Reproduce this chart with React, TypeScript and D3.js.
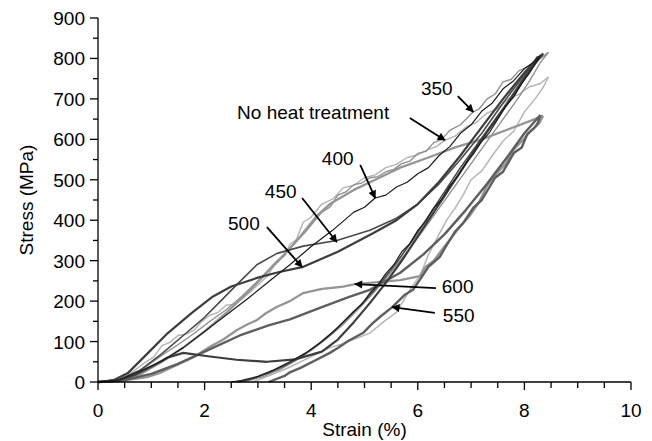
import React from "react";
import * as d3 from "d3";

// strain (%) , stress (MPa), one loading + one unloading branch per sample
const nhtLoad = [[0,0],[0.3,4],[0.6,20],[0.9,50],[1.05,62],[1.2,90],[1.35,98],[1.5,115],[1.65,118],[1.8,128],[1.95,150],[2.1,165],[2.25,172],[2.4,190],[2.55,192],[2.7,205],[2.85,222],[3.0,240],[3.18,262],[3.36,300],[3.5,312],[3.6,340],[3.72,352],[3.85,395],[4.0,408],[4.2,440],[4.4,452],[4.6,480],[4.8,486],[5.0,505],[5.2,512],[5.4,530],[5.6,538],[5.8,555],[6.0,562],[6.2,575],[6.35,582],[6.51,598],[6.7,608],[6.9,630],[7.1,642],[7.3,665],[7.5,676],[7.7,700],[7.9,712],[8.1,730],[8.3,738],[8.45,754]];
const nhtUnload = [[8.45,754],[8.35,728],[8.2,700],[8.0,668],[7.8,620],[7.6,596],[7.4,560],[7.2,522],[7.0,500],[6.85,462],[6.7,430],[6.55,402],[6.41,368],[6.2,315],[6.04,262],[5.85,228],[5.6,172],[5.35,148],[5.1,121],[4.85,108],[4.6,95],[4.35,85],[4.05,66],[3.8,50],[3.55,34],[3.3,20],[2.9,0]];

const t350Load = [[0,0],[0.3,2],[0.6,14],[0.9,38],[1.2,66],[1.5,92],[1.8,120],[2.1,150],[2.4,178],[2.7,212],[3.0,250],[3.3,292],[3.6,330],[3.9,372],[4.2,420],[4.35,432],[4.5,462],[4.65,470],[4.8,488],[4.95,492],[5.1,505],[5.25,508],[5.4,520],[5.55,526],[5.7,540],[5.85,546],[6.0,565],[6.15,570],[6.3,592],[6.45,600],[6.6,622],[6.8,636],[7.04,668],[7.15,675],[7.3,700],[7.45,712],[7.6,742],[7.75,748],[7.9,770],[8.05,778],[8.2,795],[8.3,800],[8.45,815]];
const t350Unload = [[8.45,815],[8.3,790],[8.1,745],[7.9,705],[7.6,650],[7.3,595],[7.0,540],[6.7,485],[6.4,430],[6.1,375],[5.8,322],[5.5,272],[5.2,225],[4.9,182],[4.6,142],[4.3,108],[4.0,78],[3.7,52],[3.4,30],[3.1,13],[2.8,3],[2.6,0]];

const t400Load = [[0,0],[0.4,5],[0.8,28],[1.2,52],[1.6,85],[2.0,125],[2.4,165],[2.8,205],[3.2,248],[3.6,290],[4.0,335],[4.4,375],[4.8,420],[5.0,432],[5.2,455],[5.4,462],[5.6,482],[5.8,494],[6.0,515],[6.2,530],[6.4,560],[6.6,582],[6.8,615],[7.0,636],[7.2,670],[7.4,690],[7.6,725],[7.8,745],[8.0,775],[8.15,788],[8.3,808]];
const t400Unload = [[8.3,808],[8.1,765],[7.95,738],[7.8,705],[7.65,682],[7.5,650],[7.35,618],[7.2,595],[7.05,565],[6.9,540],[6.75,508],[6.6,485],[6.45,452],[6.3,430],[6.15,398],[6.0,375],[5.85,342],[5.7,322],[5.55,290],[5.4,268],[5.25,240],[5.1,220],[4.95,192],[4.8,175],[4.5,135],[4.2,100],[3.9,72],[3.6,50],[3.3,30],[3.0,14],[2.7,4],[2.5,0]];

const t450Load = [[0,0],[0.4,6],[0.8,30],[1.2,70],[1.6,115],[2.0,160],[2.3,200],[2.6,240],[2.98,290],[3.36,318],[3.85,336],[4.48,350],[5.1,375],[5.6,405],[6.0,440],[6.4,490],[6.8,550],[7.2,615],[7.6,690],[8.0,760],[8.25,805]];
const t450Unload = [[8.25,805],[8.0,755],[7.7,695],[7.4,640],[7.1,585],[6.8,530],[6.5,470],[6.2,410],[5.9,350],[5.6,295],[5.3,245],[5.0,200],[4.7,160],[4.4,122],[4.1,90],[3.8,62],[3.5,40],[3.2,22],[2.9,8],[2.65,0]];

const t500Load = [[0,0],[0.3,5],[0.56,22],[0.94,72],[1.31,121],[1.76,171],[2.14,210],[2.5,236],[3.0,258],[3.4,272],[3.83,284],[4.5,322],[5.16,368],[5.6,400],[6.0,440],[6.4,495],[6.8,560],[7.2,630],[7.6,700],[8.0,765],[8.35,812]];
const t500Unload = [[8.35,812],[8.1,770],[7.8,710],[7.5,655],[7.2,600],[6.9,540],[6.6,480],[6.3,420],[6.0,360],[5.7,300],[5.4,245],[5.1,195],[4.8,148],[4.5,105],[4.2,75],[3.7,56],[3.17,50],[2.6,55],[2.1,63],[1.6,72],[1.3,60],[1.0,38],[0.7,18],[0.4,5],[0,0]];

const t550Load = [[0,0],[0.5,5],[1.0,20],[1.5,45],[2.0,75],[2.66,115],[3.2,140],[3.6,155],[4.2,185],[4.7,210],[5.1,228],[5.67,270],[6.1,315],[6.5,365],[6.9,425],[7.3,490],[7.7,560],[8.0,615],[8.3,660]];
const t550Unload = [[8.3,660],[8.25,640],[8.2,630],[8.05,612],[7.95,580],[7.8,566],[7.6,520],[7.45,505],[7.2,450],[7.05,432],[6.85,393],[6.7,372],[6.55,340],[6.41,309],[6.2,285],[6.05,255],[5.91,228],[5.75,215],[5.52,185],[5.3,162],[5.15,145],[4.97,121],[4.7,102],[4.5,84],[4.35,72],[4.1,55],[3.8,35],[3.6,24],[3.5,15],[3.2,0]];

const t600Load = [[0,0],[0.4,4],[0.8,20],[1.2,50],[1.6,85],[2.0,125],[2.4,170],[2.8,220],[3.2,275],[3.5,315],[3.79,359],[4.1,410],[4.35,440],[4.8,475],[5.2,500],[5.67,530],[6.2,555],[6.7,580],[7.2,600],[7.7,625],[8.1,645],[8.35,658]];
const t600Unload = [[8.35,658],[8.28,640],[8.2,630],[8.1,618],[7.97,598],[7.8,575],[7.65,540],[7.49,517],[7.3,485],[7.15,445],[6.98,412],[6.8,385],[6.65,360],[6.47,330],[6.3,300],[6.15,285],[6.04,262],[5.9,258],[5.67,252],[5.4,249],[5.1,245],[4.82,242],[4.6,236],[4.48,234],[4.2,230],[3.85,220],[3.6,200],[3.36,186],[3.15,170],[2.98,153],[2.8,142],[2.6,128],[2.35,105],[2.1,87],[1.8,62],[1.4,37],[1.15,22],[0.92,12],[0.4,2],[0,0]];

const labels = ["No heat treatment", "350", "400", "450", "500", "550", "600"];
// label text position [strain, stress], arrow tail, arrow tip
const labelPos = [[2.61,668],[6.06,727],[4.2,554],[3.13,472],[2.44,393],[6.47,166],[6.45,237]];
const arrowTail = [[5.85,653],[6.75,707],[4.92,537],[3.83,455],[3.17,383],[6.32,171],[6.34,232]];
const arrowTip = [[6.51,598],[7.04,668],[5.2,455],[4.48,346],[3.83,284],[5.52,185],[4.82,242]];

const xTicks = [0, 2, 4, 6, 8, 10];
const yTicks = [0, 100, 200, 300, 400, 500, 600, 700, 800, 900];

const series = [
  { load: nhtLoad, unload: nhtUnload, color: "#b3b3b3", w: 1.4 },
  { load: t350Load, unload: t350Unload, color: "#8c8c8c", w: 1.3 },
  { load: t600Load, unload: t600Unload, color: "#959595", w: 2.3 },
  { load: t550Load, unload: t550Unload, color: "#5e5e5e", w: 2.4 },
  { load: t450Load, unload: t450Unload, color: "#4a4a4a", w: 1.6 },
  { load: t500Load, unload: t500Unload, color: "#3d3d3d", w: 2.2 },
  { load: t400Load, unload: t400Unload, color: "#1a1a1a", w: 1.2 },
];

const W = 652;
const H = 441;
const font = "'Liberation Sans', Arial, sans-serif";

export default function App() {
  const x = d3.scaleLinear().domain([0, 10]).range([98, 631]);
  const y = d3.scaleLinear().domain([0, 900]).range([382, 18]);
  const line = d3.line<number[]>().x(d => x(d[0])).y(d => y(d[1]));

  const xMinor = d3.range(0, 10.001, 0.5);
  const yMinor = d3.range(0, 900.001, 50);

  return (
    <svg width={W} height={H} style={{ position: "absolute", left: 0, top: 0, background: "#fff" }}
      fontFamily={font}>
      <defs>
        <marker id="ah" viewBox="0 0 10 10" refX="9" refY="5" markerWidth="5" markerHeight="4.5"
          orient="auto" markerUnits="strokeWidth">
          <path d="M0,0 L10,5 L0,10 z" fill="#000" />
        </marker>
      </defs>

      {series.map((s, i) => (
        <g key={i} fill="none" stroke={s.color} strokeWidth={s.w} strokeLinejoin="round">
          <path d={line(s.unload) || ""} />
          <path d={line(s.load) || ""} />
        </g>
      ))}

      {/* axes */}
      <g stroke="#000" strokeWidth={1.3}>
        <line x1={x(0)} x2={x(10)} y1={y(0)} y2={y(0)} />
        <line x1={x(0)} x2={x(0)} y1={y(0)} y2={y(900)} />
        {xMinor.map(v => (
          <line key={"xm" + v} x1={x(v)} x2={x(v)} y1={y(0)} y2={y(0) + (v % 2 === 0 ? 8 : 6)} />
        ))}
        {yMinor.map(v => (
          <line key={"ym" + v} x1={x(0)} x2={x(0) - (v % 100 === 0 ? 8 : 5)} y1={y(v)} y2={y(v)} />
        ))}
      </g>
      {xTicks.map(v => (
        <text key={"xl" + v} x={x(v)} y={y(0) + 35} fontSize={19} textAnchor="middle">{v}</text>
      ))}
      {yTicks.map(v => (
        <text key={"yl" + v} x={x(0) - 13} y={y(v) + 7} fontSize={19} textAnchor="end">{v}</text>
      ))}
      <text x={(x(0) + x(10)) / 2} y={436} fontSize={19} textAnchor="middle">Strain (%)</text>
      <text transform={`translate(33,${(y(0) + y(900)) / 2}) rotate(-90)`} fontSize={19} textAnchor="middle">
        Stress (MPa)
      </text>

      {/* annotations */}
      {labels.map((l, i) => (
        <g key={l}>
          <text x={x(labelPos[i][0])} y={y(labelPos[i][1]) + 7} fontSize={19}>{l}</text>
          <line x1={x(arrowTail[i][0])} y1={y(arrowTail[i][1])} x2={x(arrowTip[i][0])} y2={y(arrowTip[i][1])}
            stroke="#000" strokeWidth={1.8} markerEnd="url(#ah)" />
        </g>
      ))}
    </svg>
  );
}
